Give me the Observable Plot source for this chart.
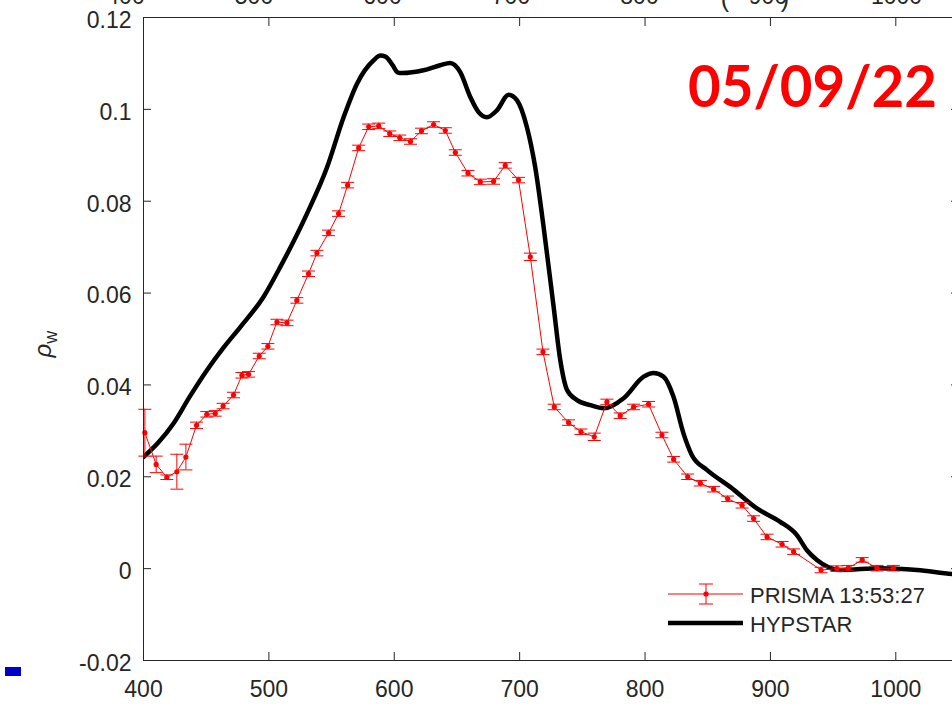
<!DOCTYPE html>
<html>
<head>
<meta charset="utf-8">
<script src="https://cdn.jsdelivr.net/npm/d3@7"></script>
<script src="https://cdn.jsdelivr.net/npm/@observablehq/plot@0.6"></script>
<style>
  html, body { margin: 0; padding: 0; background: #fff; overflow: hidden; }
  #wrap { position: relative; width: 952px; height: 714px; overflow: hidden; background: #fff; }
  #chart { position: absolute; left: 0; top: 0; width: 960px; }
  #chart svg { max-width: none !important; }
  #overlay { position: absolute; left: 0; top: 0; pointer-events: none; }
</style>
</head>
<body>
<div id="wrap">
  <div id="chart"></div>
  <svg id="overlay" width="952" height="714"></svg>
</div>
<script>
// ---- data ----
const xTicks = [400, 500, 600, 700, 800, 900, 1000];
const yTicks = [-0.02, 0, 0.02, 0.04, 0.06, 0.08, 0.1, 0.12];
const topTickLabels = ["400", "500", "600", "700", "800", "900", "1000"];

const prismaWl = [401.1, 410.1, 418.6, 426.6, 433.8, 442.3, 450.5, 457.2, 463.5, 471.8,
  478.5, 483.8, 492.3, 499.2, 506.4, 514.4, 522.3, 531.6, 538.3, 547.6,
  555.6, 562.8, 571.6, 579.6, 587.6, 596.4, 604.4, 612.9, 621.7, 631.4,
  640.7, 648.7, 658.8, 668.6, 679.2, 688.5, 699.1, 708.5, 718.6, 727.6,
  739.0, 748.9, 759.5, 769.6, 780.2, 790.9, 802.8, 813.5, 822.8, 834.0,
  844.1, 854.7, 865.9, 877.4, 886.6, 897.3, 909.3, 918.5, 940.4, 953.0,
  962.0, 973.2, 985.0, 998.0];
const prismaRho = [0.0296, 0.0227, 0.0199, 0.0211, 0.0243, 0.0312, 0.0336, 0.0338, 0.0354, 0.0378,
  0.0421, 0.0423, 0.0463, 0.0484, 0.0537, 0.0535, 0.0584, 0.0642, 0.0687, 0.0731,
  0.0773, 0.0835, 0.0916, 0.0962, 0.0964, 0.0947, 0.0938, 0.0930, 0.0953, 0.0967,
  0.0954, 0.0906, 0.0861, 0.0842, 0.0843, 0.0878, 0.0846, 0.0679, 0.0472, 0.0352,
  0.0318, 0.0298, 0.0287, 0.0363, 0.0333, 0.0352, 0.0358, 0.0291, 0.0238, 0.0200,
  0.0186, 0.0173, 0.0152, 0.0138, 0.0109, 0.0069, 0.0053, 0.0037, -0.0003, 0.0000,
  0.0001, 0.0019, 0.0001, 0.0001];
const prismaErr = [0.0051, 0.0018, 0.0005, 0.0038, 0.0028, 0.0007, 0.0006, 0.0006, 0.0006, 0.0006,
  0.0006, 0.0006, 0.0006, 0.0006, 0.0006, 0.0006, 0.0006, 0.0006, 0.0006, 0.0006,
  0.0006, 0.0006, 0.0006, 0.0006, 0.0006, 0.0006, 0.0006, 0.0006, 0.0006, 0.0006,
  0.0006, 0.0006, 0.0006, 0.0006, 0.0006, 0.0006, 0.0006, 0.0008, 0.0006, 0.0006,
  0.0006, 0.0006, 0.0008, 0.0006, 0.0006, 0.0006, 0.0006, 0.0006, 0.0006, 0.0006,
  0.0006, 0.0006, 0.0006, 0.0006, 0.0006, 0.0006, 0.0006, 0.0006, 0.0006, 0.0006,
  0.0006, 0.0005, 0.0006, 0.0006];

const hypWl = [400.0, 412.0, 423.9, 437.0, 450.6, 463.5, 477.2, 495.8, 509.1, 530.4,
  546.4, 559.6, 570.3, 583.6, 589.0, 593.0, 598.5, 603.0, 606.1, 623.3,
  636.6, 644.6, 652.6, 660.6, 667.2, 673.9, 681.9, 691.2, 697.8, 705.8,
  712.4, 719.1, 727.1, 732.4, 737.8, 745.7, 756.3, 767.0, 782.9, 798.9,
  806.8, 814.7, 822.7, 830.7, 837.4, 849.3, 867.9, 889.2, 907.8, 921.1,
  929.1, 937.1, 955.7, 987.6, 1016.9, 1045.2, 1050.0];
const hypRho = [0.0243, 0.0275, 0.0316, 0.0375, 0.0432, 0.0480, 0.0526, 0.0592, 0.0657, 0.0773,
  0.0874, 0.0983, 0.1056, 0.1107, 0.1117, 0.1115, 0.1097, 0.1080, 0.1079, 0.1085,
  0.1096, 0.1101, 0.1081, 0.1027, 0.0994, 0.0983, 0.0998, 0.1032, 0.1020, 0.0961,
  0.0874, 0.0744, 0.0570, 0.0454, 0.0389, 0.0367, 0.0356, 0.0349, 0.0371, 0.0418,
  0.0426, 0.0418, 0.0374, 0.0294, 0.0247, 0.0215, 0.0178, 0.0131, 0.0102, 0.0073,
  0.0040, 0.0019, -0.0003, 0.0001, -0.0003, -0.0012, -0.0013];

const seriesNames = ["PRISMA 13:53:27", "HYPSTAR"];
const dateLabel = "05/09/22";

// ---- build tables ----
const prisma = prismaWl.map((w, i) => ({w, v: prismaRho[i], e: prismaErr[i]}));
const hyp = hypWl.map((w, i) => ({w, v: hypRho[i]}));

const ink = "#262626";
const fmtX = d => String(d);
const fmtY = d => String(+d.toFixed(2));
const capSymbol = { draw(ctx) { ctx.moveTo(-6.5, 0); ctx.lineTo(6.5, 0); } };
const blank = () => "";

const chart = Plot.plot({
  width: 960,
  height: 714,
  marginLeft: 143,
  marginRight: 2,
  marginTop: 17,
  marginBottom: 54,
  x: {domain: [400, 1050]},
  y: {domain: [-0.02, 0.12]},
  style: {fontFamily: "'Liberation Sans', Arial, sans-serif", fontSize: "23px", color: ink, background: "transparent", maxWidth: "none"},
  marks: [
    Plot.axisX(xTicks, {anchor: "bottom", tickSize: 0, tickPadding: 20, tickFormat: fmtX, fontSize: 23, label: null}),
    Plot.axisX(xTicks, {anchor: "bottom", tickSize: -8, tickFormat: blank, label: null, stroke: ink}),
    Plot.axisX(xTicks, {anchor: "top", tickSize: -8, tickFormat: blank, label: null, stroke: ink}),
    Plot.axisY(yTicks, {anchor: "left", tickSize: 0, tickPadding: 12, dy: 3, tickFormat: fmtY, fontSize: 23, label: null}),
    Plot.axisY(yTicks, {anchor: "left", tickSize: -8, tickFormat: blank, label: null, stroke: ink}),
    Plot.axisY(yTicks, {anchor: "right", tickSize: -8, tickFormat: blank, label: null, stroke: ink}),
    Plot.line(hyp, {x: "w", y: "v", stroke: "#000", strokeWidth: 4.5, curve: "monotone-x", clip: true}),
    Plot.line(prisma, {x: "w", y: "v", stroke: "#ff0000", strokeWidth: 1}),
    Plot.ruleX(prisma, {x: "w", y1: d => d.v - d.e, y2: d => d.v + d.e, stroke: "#ff0000", strokeWidth: 1}),
    Plot.dot(prisma, {x: "w", y: d => d.v + d.e, symbol: capSymbol, fill: "none", stroke: "#ff0000", strokeWidth: 1}),
    Plot.dot(prisma, {x: "w", y: d => d.v - d.e, symbol: capSymbol, fill: "none", stroke: "#ff0000", strokeWidth: 1}),
    Plot.dot(prisma, {x: "w", y: "v", r: 2.6, fill: "#ff0000", stroke: "none"}),
    Plot.frame({stroke: ink, strokeWidth: 1})
  ]
});
document.getElementById("chart").appendChild(chart);

// ---- overlay: labels, legend, annotations ----
const ov = d3.select("#overlay");
const font = "'Liberation Sans', Arial, sans-serif";

// cut-off tick labels of the panel above
const topX = d3.scaleLinear().domain([400, 500]).range([125.5, 254]);
ov.selectAll("text.toplab").data(topTickLabels).join("text")
  .attr("x", d => topX(+d)).attr("y", 4)
  .attr("text-anchor", "middle").attr("font-family", font).attr("font-size", 23)
  .attr("fill", ink).text(d => d);
ov.append("text").attr("x", 725).attr("y", 7).attr("text-anchor", "middle")
  .attr("font-family", font).attr("font-size", 25).attr("fill", ink).text("(");
ov.append("text").attr("x", 785).attr("y", 7).attr("text-anchor", "middle")
  .attr("font-family", font).attr("font-size", 25).attr("fill", ink).text(")");

// y label rho_w
const yl = ov.append("text")
  .attr("transform", "translate(51,344) rotate(-90)")
  .attr("text-anchor", "middle").attr("font-family", font).attr("font-size", 24).attr("fill", ink);
yl.append("tspan").attr("font-style", "italic").text("ρ");
yl.append("tspan").attr("font-size", 18).attr("dy", 6).text("w");

// date annotation
ov.append("text").attr("x", 688).attr("y", 107)
  .attr("font-family", "Lato, 'Open Sans', sans-serif").attr("font-weight", "bold")
  .attr("font-size", 57).attr("fill", "#ff0000")
  .attr("textLength", 249).attr("lengthAdjust", "spacingAndGlyphs")
  .text(dateLabel);

// legend
const lg = ov.append("g");
lg.append("line").attr("x1", 668).attr("x2", 743).attr("y1", 594).attr("y2", 594)
  .attr("stroke", "#ff0000").attr("stroke-width", 1);
lg.append("line").attr("x1", 706).attr("x2", 706).attr("y1", 584).attr("y2", 604)
  .attr("stroke", "#ff0000").attr("stroke-width", 1);
lg.append("line").attr("x1", 699).attr("x2", 713).attr("y1", 584).attr("y2", 584)
  .attr("stroke", "#ff0000").attr("stroke-width", 1);
lg.append("line").attr("x1", 699).attr("x2", 713).attr("y1", 604).attr("y2", 604)
  .attr("stroke", "#ff0000").attr("stroke-width", 1);
lg.append("circle").attr("cx", 706).attr("cy", 594).attr("r", 2.6).attr("fill", "#ff0000");
lg.append("line").attr("x1", 668).attr("x2", 743).attr("y1", 623).attr("y2", 623)
  .attr("stroke", "#000").attr("stroke-width", 4.5);
lg.selectAll("text").data(seriesNames).join("text")
  .attr("x", 750).attr("y", (d, i) => 602.5 + i * 29)
  .attr("font-family", font).attr("font-size", 22).attr("fill", ink).text(d => d);

// small blue marker at lower left
ov.append("rect").attr("x", 5).attr("y", 667).attr("width", 16).attr("height", 9).attr("fill", "#0000c8");
</script>
</body>
</html>
